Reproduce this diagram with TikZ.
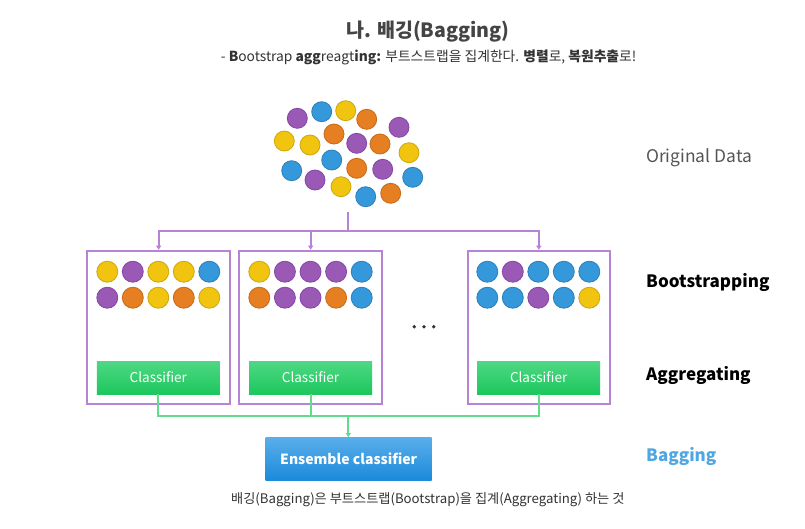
\documentclass[tikz,border=0pt]{standalone}
\usepackage{fontspec}
\setmainfont{Noto Sans CJK KR}
\usetikzlibrary{arrows.meta}
\definecolor{cPf}{HTML}{9B59B6}\definecolor{cPd}{HTML}{8445A8}
\definecolor{cBf}{HTML}{3498DB}\definecolor{cBd}{HTML}{2A80BC}
\definecolor{cYf}{HTML}{F1C40F}\definecolor{cYd}{HTML}{CFA60C}
\definecolor{cOf}{HTML}{E67E22}\definecolor{cOd}{HTML}{C86A18}
\definecolor{boxpurple}{HTML}{B783D6}
\definecolor{linegreen}{HTML}{5FDC8C}
\definecolor{gTop}{HTML}{4FD884}\definecolor{gBot}{HTML}{1CC75D}
\definecolor{bTop}{HTML}{5AAEEA}\definecolor{bBot}{HTML}{1A8ADB}
\definecolor{titlegrey}{HTML}{444444}
\definecolor{textgrey}{HTML}{333333}
\definecolor{labgrey}{HTML}{555555}
\definecolor{bagblue}{HTML}{4EA6E2}
\begin{document}
\begin{tikzpicture}[x=1pt,y=-1pt,
  ball/.style={circle,minimum size=20pt,inner sep=0pt,line width=0.8pt},
  pb/.style={ball,fill=cPf,draw=cPd},
  bb/.style={ball,fill=cBf,draw=cBd},
  yb/.style={ball,fill=cYf,draw=cYd},
  ob/.style={ball,fill=cOf,draw=cOd},
  sball/.style={minimum size=21pt},
  bagbox/.style={draw=boxpurple,line width=2pt,minimum width=142.7pt,minimum height=153.6pt,inner sep=0pt},
  clsbox/.style={top color=gTop,bottom color=gBot,draw=none,minimum width=123pt,minimum height=33pt,inner sep=0pt,text=white,font=\fontsize{13.5}{15}\selectfont},
  pline/.style={draw=boxpurple,line width=2pt},
  gline/.style={draw=linegreen,line width=2pt},
  ptip/.style={-{Triangle[length=4pt,width=5pt]}},
  rlabel/.style={anchor=west,inner sep=0pt},
  dotm/.style={circle,fill=textgrey,minimum size=3.8pt,inner sep=0pt}
]
\useasboundingbox (0,0) rectangle (805,528);
\fill[white] (0,0) rectangle (805,528);

% title
\node[text=titlegrey,font=\fontsize{19.6}{22}\selectfont\bfseries] (title) at (428,32) {나. 배깅(Bagging)};
\node[text=textgrey,font=\fontsize{13.8}{16}\selectfont] (subtitle) at (428.6,57) {- \textbf{B}ootstrap \textbf{agg}reagt\textbf{ing:} 부트스트랩을 집계한다. \textbf{병렬}로, \textbf{복원추출}로!};

% original data
\node[pb] (d1) at (297.3,118.3) {};
\node[bb] (d2) at (321.7,111.7) {};
\node[yb] (d3) at (345.7,110.7) {};
\node[ob] (d4) at (366.7,119.3) {};
\node[pb] (d5) at (399,127.3) {};
\node[yb] (d6) at (284.3,141) {};
\node[yb] (d7) at (310,145) {};
\node[ob] (d8) at (334,134) {};
\node[pb] (d9) at (356.7,143.3) {};
\node[ob] (d10) at (380,144) {};
\node[yb] (d11) at (409,152.7) {};
\node[bb] (d12) at (291.7,170.7) {};
\node[bb] (d13) at (331.7,160) {};
\node[ob] (d14) at (356.7,168.3) {};
\node[pb] (d15) at (382.7,169.3) {};
\node[bb] (d16) at (412.7,177.3) {};
\node[pb] (d17) at (315,180) {};
\node[yb] (d18) at (341,186.7) {};
\node[bb] (d19) at (365.7,196.7) {};
\node[ob] (d20) at (390.7,193.3) {};

% boxes
\node[bagbox] (box1) at (158.65,327.5) {};
\node[bagbox] (box2) at (310.65,327.5) {};
\node[bagbox] (box3) at (538.85,327.5) {};

% purple connectors
\coordinate (orig) at (348.3,212);
\coordinate (pj) at (348.3,231.3);
\draw[pline] (orig) -- (pj);
\draw[pline,ptip] (pj) -| (box1.north);
\draw[pline,ptip] (pj) -| (box2.north);
\draw[pline,ptip] (pj) -| (box3.north);

% box 1 samples
\node[yb,sball] (a11) at (107.3,271.7) {};
\node[pb,sball] (a12) at (132.8,271.7) {};
\node[yb,sball] (a13) at (158.3,271.7) {};
\node[yb,sball] (a14) at (183.8,271.7) {};
\node[bb,sball] (a15) at (209.3,271.7) {};
\node[pb,sball] (a21) at (107.3,297.7) {};
\node[ob,sball] (a22) at (132.8,297.7) {};
\node[yb,sball] (a23) at (158.3,297.7) {};
\node[ob,sball] (a24) at (183.8,297.7) {};
\node[yb,sball] (a25) at (209.3,297.7) {};
% box 2 samples
\node[yb,sball] (b11) at (259.3,271.7) {};
\node[pb,sball] (b12) at (284.9,271.7) {};
\node[pb,sball] (b13) at (310.5,271.7) {};
\node[pb,sball] (b14) at (336.1,271.7) {};
\node[bb,sball] (b15) at (361.7,271.7) {};
\node[ob,sball] (b21) at (259.3,297.7) {};
\node[pb,sball] (b22) at (284.9,297.7) {};
\node[pb,sball] (b23) at (310.5,297.7) {};
\node[ob,sball] (b24) at (336.1,297.7) {};
\node[bb,sball] (b25) at (361.7,297.7) {};
% box 3 samples
\node[bb,sball] (c11) at (487.3,271.7) {};
\node[pb,sball] (c12) at (512.8,271.7) {};
\node[bb,sball] (c13) at (538.3,271.7) {};
\node[bb,sball] (c14) at (563.8,271.7) {};
\node[bb,sball] (c15) at (589.3,271.7) {};
\node[bb,sball] (c21) at (487.3,297.7) {};
\node[bb,sball] (c22) at (512.8,297.7) {};
\node[pb,sball] (c23) at (538.3,297.7) {};
\node[bb,sball] (c24) at (563.8,297.7) {};
\node[yb,sball] (c25) at (589.3,297.7) {};

% ellipsis dots
\node[dotm] (e1) at (414.3,326.7) {};
\node[dotm] (e2) at (424,326.7) {};
\node[dotm] (e3) at (433.7,326.7) {};

% classifiers
\node[clsbox] (cls1) at (158.35,377.5) {Classifier};
\node[clsbox] (cls2) at (310.5,377.5) {Classifier};
\node[clsbox] (cls3) at (538.65,377.5) {Classifier};

% ensemble
\node[top color=bTop,bottom color=bBot,minimum width=166pt,minimum height=43.4pt,inner sep=0pt,text=white,font=\fontsize{14}{16}\selectfont\bfseries] (ens) at (348.7,459) {Ensemble classifier};

% green connectors
\coordinate (gj) at (348.3,415.7);
\draw[gline] (cls1.south) |- (gj);
\draw[gline] (cls3.south) |- (gj);
\draw[gline] (cls2.south) -- (cls2.south |- gj);
\draw[gline,-{Triangle[length=4pt,width=5pt]}] (gj) -- (gj |- ens.north);

% right labels
\node[rlabel,text=labgrey,font=\fontsize{17.4}{19}\selectfont] (lorig) at (646,157.3) {Original Data};
\node[rlabel,text=black,font=\fontsize{17}{19}\selectfont\bfseries] (lboot) at (646,282.3) {Bootstrapping};
\node[rlabel,text=black,font=\fontsize{17}{19}\selectfont\bfseries] (lagg) at (646,375.7) {Aggregating};
\node[rlabel,text=bagblue,font=\fontsize{17}{19}\selectfont\bfseries] (lbag) at (646,456.7) {Bagging};

% caption
\node[text=textgrey,font=\fontsize{13.2}{15}\selectfont] (caption) at (427.8,499.3) {배깅(Bagging)은 부트스트랩(Bootstrap)을 집계(Aggregating) 하는 것};
\end{tikzpicture}
\end{document}
